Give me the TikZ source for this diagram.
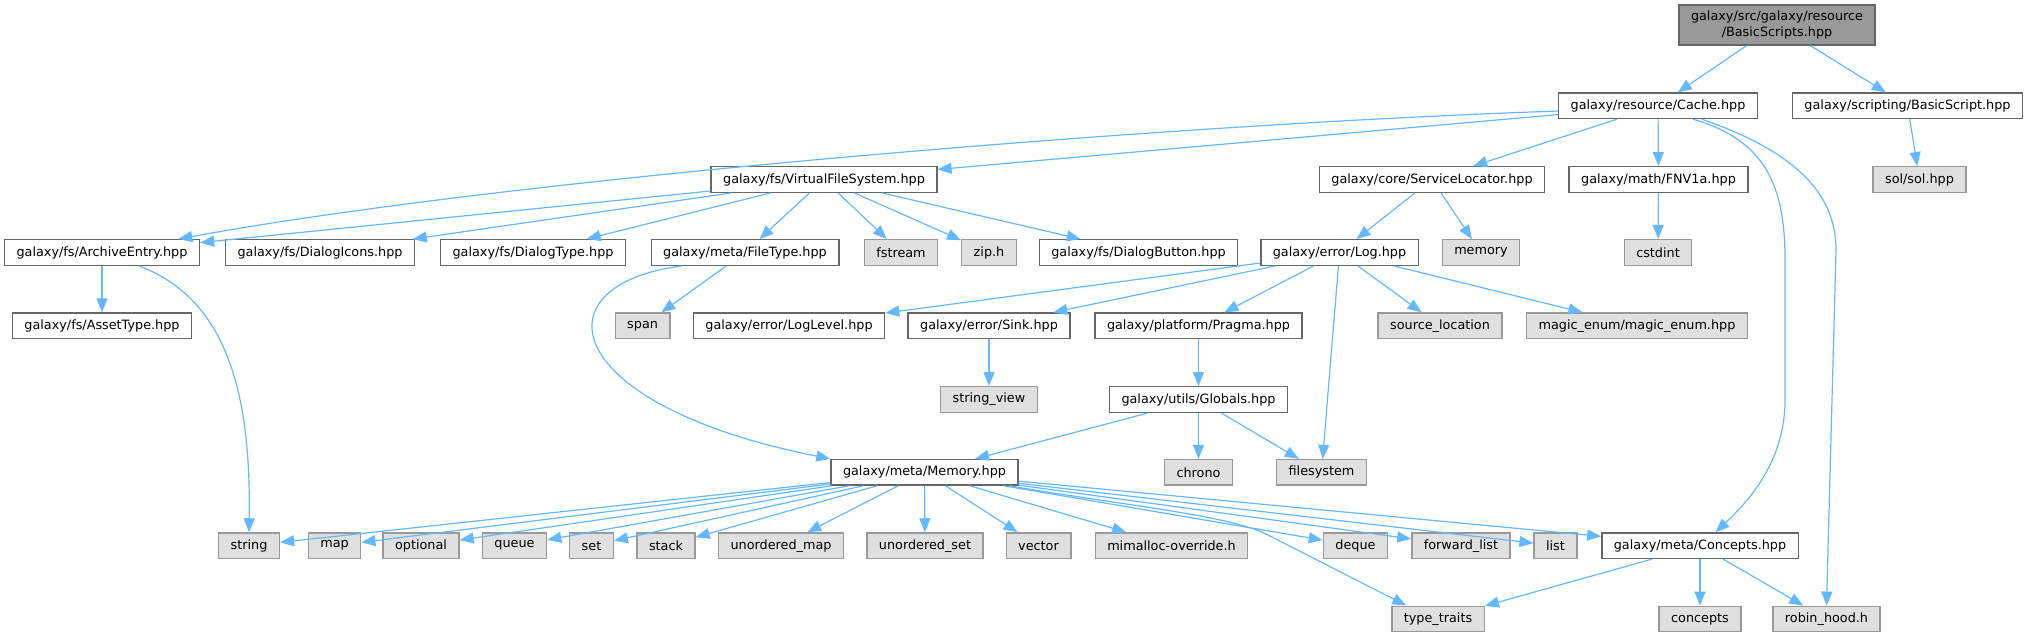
\documentclass[tikz,border=0pt]{standalone}
\usepackage{fontspec}
\setmainfont{DejaVu Sans}
\usepackage{xcolor}
\usepackage{tikz}
\usetikzlibrary{arrows.meta}

\definecolor{edgeblue}{HTML}{63B8FF}
\definecolor{nodeborder}{HTML}{666666}
\definecolor{extborder}{HTML}{999999}
\definecolor{extfill}{HTML}{E0E0E0}
\definecolor{mainfill}{HTML}{999999}

\begin{document}
\begin{tikzpicture}[
        x=0.5pt, y=-0.5pt,
        % Style for documented header boxes
        filenode/.style={
            draw=nodeborder,
            fill=white,
            line width=0.7pt,
            minimum height=12.75pt,
            inner xsep=6pt,
            inner ysep=0pt,
            font=\fontsize{6.4pt}{7.7pt}\selectfont
        },
        % Style for system / external headers
        extnode/.style={
            filenode,
            draw=extborder,
            fill=extfill
        },
        % Style for the file the graph is about
        mainnode/.style={
            filenode,
            fill=mainfill,
            align=center,
            minimum height=20pt,
            font=\fontsize{6.4pt}{8.3pt}\selectfont
        },
        % Style for the include arrows
        dep_arrow/.style={
            ->,
            >={Triangle[length=7pt, width=5.5pt]},
            draw=edgeblue,
            line width=0.6pt
        }
    ]
    \useasboundingbox (0,0) rectangle (2029,637);

    % ==========================================
    % TOP ROWS
    % ==========================================
    \node[mainnode] (basicscripts) at (1777, 25) {galaxy/src/galaxy/resource\\/BasicScripts.hpp};

    \node[filenode] (cache) at (1658, 105.8) {galaxy/resource/Cache.hpp};
    \node[filenode] (basicscript) at (1907.5, 105.8) {galaxy/scripting/BasicScript.hpp};

    \node[filenode] (vfs) at (824, 179.5) {galaxy/fs/VirtualFileSystem.hpp};
    \node[filenode] (locator) at (1432, 179.5) {galaxy/core/ServiceLocator.hpp};
    \node[filenode] (fnv) at (1658.5, 179.5) {galaxy/math/FNV1a.hpp};
    \node[extnode] (sol) at (1919.5, 179.5) {sol/sol.hpp};

    % ==========================================
    % MIDDLE ROWS
    % ==========================================
    \node[filenode] (archive) at (102, 252.5) {galaxy/fs/ArchiveEntry.hpp};
    \node[filenode] (dlgicons) at (320, 252.5) {galaxy/fs/DialogIcons.hpp};
    \node[filenode] (dlgtype) at (533, 252.5) {galaxy/fs/DialogType.hpp};
    \node[filenode] (filetype) at (745, 252.5) {galaxy/meta/FileType.hpp};
    \node[extnode] (fstream) at (901, 252.5) {fstream};
    \node[extnode] (zip) at (989, 252.5) {zip.h};
    \node[filenode] (dlgbutton) at (1138.5, 252.5) {galaxy/fs/DialogButton.hpp};
    \node[filenode] (log) at (1339.5, 252.5) {galaxy/error/Log.hpp};
    \node[extnode] (memory) at (1481, 252.5) {memory};
    \node[extnode] (cstdint) at (1658, 252.5) {cstdint};

    \node[filenode] (assettype) at (102, 325.8) {galaxy/fs/AssetType.hpp};
    \node[extnode] (span) at (642.6, 325.8) {span};
    \node[filenode] (loglevel) at (789, 325.8) {galaxy/error/LogLevel.hpp};
    \node[filenode] (sink) at (989, 325.8) {galaxy/error/Sink.hpp};
    \node[filenode] (pragma) at (1198.5, 325.8) {galaxy/platform/Pragma.hpp};
    \node[extnode] (srcloc) at (1440, 325.8) {source\_location};
    \node[extnode] (magicenum) at (1637, 325.8) {magic\_enum/magic\_enum.hpp};

    \node[extnode] (strview) at (989, 399.5) {string\_view};
    \node[filenode] (globals) at (1198.5, 399.5) {galaxy/utils/Globals.hpp};

    \node[filenode] (memhpp) at (924.5, 472.3) {galaxy/meta/Memory.hpp};
    \node[extnode] (chrono) at (1198.5, 472.3) {chrono};
    \node[extnode] (filesystem) at (1321.5, 472.3) {filesystem};

    % ==========================================
    % BOTTOM ROWS
    % ==========================================
    \node[extnode] (string) at (249, 545.7) {string};
    \node[extnode] (map) at (334.5, 545.7) {map};
    \node[extnode] (optional) at (421, 545.7) {optional};
    \node[extnode] (queue) at (514.5, 545.7) {queue};
    \node[extnode] (set) at (591.5, 545.7) {set};
    \node[extnode] (stack) at (666, 545.7) {stack};
    \node[extnode] (umap) at (781, 545.7) {unordered\_map};
    \node[extnode] (uset) at (925, 545.7) {unordered\_set};
    \node[extnode] (vector) at (1038.5, 545.7) {vector};
    \node[extnode] (mimalloc) at (1171.5, 545.7) {mimalloc-override.h};
    \node[extnode] (deque) at (1355.5, 545.7) {deque};
    \node[extnode] (fwdlist) at (1461, 545.7) {forward\_list};
    \node[extnode] (list) at (1555.5, 545.7) {list};
    \node[filenode] (concepts_hpp) at (1700, 545.7) {galaxy/meta/Concepts.hpp};

    \node[extnode] (typetraits) at (1438, 619) {type\_traits};
    \node[extnode] (concepts) at (1700, 619) {concepts};
    \node[extnode] (robinhood) at (1826.5, 619) {robin\_hood.h};

    % ==========================================
    % INCLUDE ARROWS
    % ==========================================
    \draw[dep_arrow] (basicscripts) -- (cache);
    \draw[dep_arrow] (basicscripts) -- (basicscript);
    \draw[dep_arrow] (basicscript) -- (sol);

    \draw[dep_arrow] (cache.183) .. controls (1150,125) and (500,180) .. (archive.10);
    \draw[dep_arrow] (cache) -- (vfs);
    \draw[dep_arrow] (cache) -- (locator);
    \draw[dep_arrow] (cache) -- (fnv);
    \draw[dep_arrow] (cache.-21) .. controls (1765,140) and (1785,185) .. (1785,260)
        -- (1785,400) .. controls (1785,460) and (1750,500) .. (concepts_hpp.41);
    \draw[dep_arrow] (cache.-17) .. controls (1790,150) and (1836,190) .. (1836,250)
        -- (robinhood.north);

    \draw[dep_arrow] (vfs) -- (archive);
    \draw[dep_arrow] (vfs) -- (dlgicons);
    \draw[dep_arrow] (vfs) -- (dlgtype);
    \draw[dep_arrow] (vfs) -- (filetype);
    \draw[dep_arrow] (vfs) -- (fstream);
    \draw[dep_arrow] (vfs) -- (zip);
    \draw[dep_arrow] (vfs) -- (dlgbutton);

    \draw[dep_arrow] (locator) -- (log);
    \draw[dep_arrow] (locator) -- (memory);
    \draw[dep_arrow] (fnv) -- (cstdint);

    \draw[dep_arrow] (archive) -- (assettype);
    \draw[dep_arrow] (archive.-20) .. controls (230,300) and (251,400) .. (string.north);

    \draw[dep_arrow] (filetype) -- (span);
    \draw[dep_arrow] (filetype.192) .. controls (535,285) and (560,405) .. (memhpp.north west);

    \draw[dep_arrow] (log) -- (loglevel);
    \draw[dep_arrow] (log) -- (sink);
    \draw[dep_arrow] (log) -- (pragma);
    \draw[dep_arrow] (log) -- (srcloc);
    \draw[dep_arrow] (log) -- (magicenum);
    \draw[dep_arrow] (log) -- (filesystem);

    \draw[dep_arrow] (sink) -- (strview);
    \draw[dep_arrow] (pragma) -- (globals);

    \draw[dep_arrow] (globals) -- (memhpp);
    \draw[dep_arrow] (globals) -- (chrono);
    \draw[dep_arrow] (globals) -- (filesystem);

    \draw[dep_arrow] (memhpp) -- (string);
    \draw[dep_arrow] (memhpp) -- (map);
    \draw[dep_arrow] (memhpp) -- (optional);
    \draw[dep_arrow] (memhpp) -- (queue);
    \draw[dep_arrow] (memhpp) -- (set);
    \draw[dep_arrow] (memhpp) -- (stack);
    \draw[dep_arrow] (memhpp) -- (umap);
    \draw[dep_arrow] (memhpp) -- (uset);
    \draw[dep_arrow] (memhpp) -- (vector);
    \draw[dep_arrow] (memhpp) -- (mimalloc);
    \draw[dep_arrow] (memhpp) -- (deque);
    \draw[dep_arrow] (memhpp) -- (fwdlist);
    \draw[dep_arrow] (memhpp) -- (list);
    \draw[dep_arrow] (memhpp) -- (concepts_hpp);
    \draw[dep_arrow] (memhpp.-9) .. controls (1120,505) and (1230,515) .. (1268,535)
        -- (typetraits.157);

    \draw[dep_arrow] (concepts_hpp) -- (typetraits);
    \draw[dep_arrow] (concepts_hpp) -- (concepts);
    \draw[dep_arrow] (concepts_hpp) -- (robinhood);
  \end{tikzpicture}
\end{document}
